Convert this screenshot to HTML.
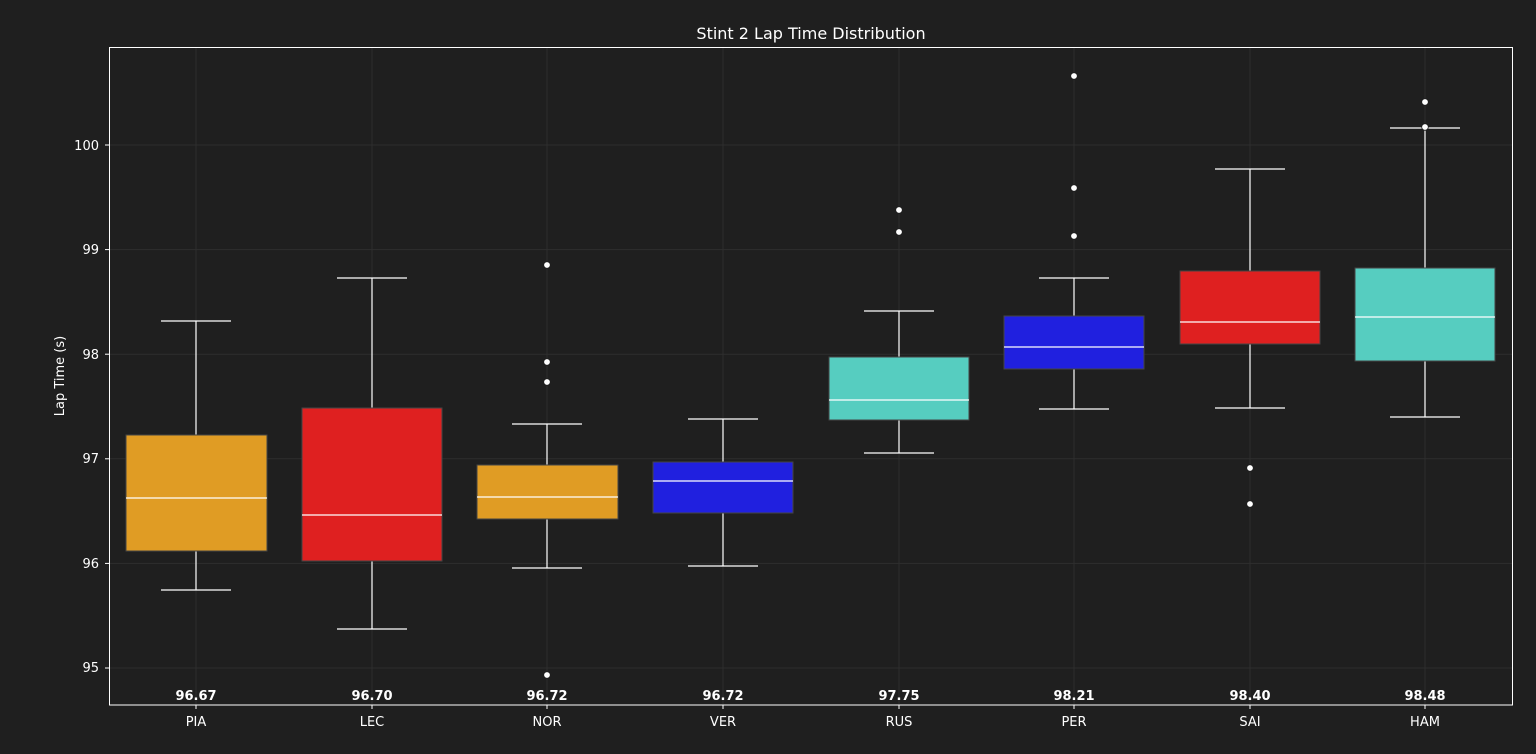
<!DOCTYPE html>
<html><head><meta charset="utf-8"><style>
html,body{margin:0;padding:0;background:#1f1f1f;}
svg{display:block;font-family:"DejaVu Sans","Liberation Sans",sans-serif;}
</style></head><body>
<svg width="1536" height="754" viewBox="0 0 1536 754" xmlns="http://www.w3.org/2000/svg">
<rect width="1536" height="754" fill="#1f1f1f"/>
<g stroke="#2e2e2e" stroke-width="1">
<line x1="109" x2="1513" y1="145" y2="145"/><line x1="109" x2="1513" y1="249.6" y2="249.6"/>
<line x1="109" x2="1513" y1="354.2" y2="354.2"/><line x1="109" x2="1513" y1="458.8" y2="458.8"/>
<line x1="109" x2="1513" y1="563.4" y2="563.4"/><line x1="109" x2="1513" y1="668" y2="668"/>
<line x1="196" x2="196" y1="47" y2="705"/><line x1="372" x2="372" y1="47" y2="705"/>
<line x1="547" x2="547" y1="47" y2="705"/><line x1="723" x2="723" y1="47" y2="705"/>
<line x1="899" x2="899" y1="47" y2="705"/><line x1="1074" x2="1074" y1="47" y2="705"/>
<line x1="1250" x2="1250" y1="47" y2="705"/><line x1="1425" x2="1425" y1="47" y2="705"/>
</g>
<g stroke="#fff" stroke-width="1">
<line x1="105" x2="109" y1="145" y2="145"/><line x1="105" x2="109" y1="249.6" y2="249.6"/>
<line x1="105" x2="109" y1="354.2" y2="354.2"/><line x1="105" x2="109" y1="458.8" y2="458.8"/>
<line x1="105" x2="109" y1="563.4" y2="563.4"/><line x1="105" x2="109" y1="668" y2="668"/>
<line x1="196" x2="196" y1="705" y2="709"/><line x1="372" x2="372" y1="705" y2="709"/>
<line x1="547" x2="547" y1="705" y2="709"/><line x1="723" x2="723" y1="705" y2="709"/>
<line x1="899" x2="899" y1="705" y2="709"/><line x1="1074" x2="1074" y1="705" y2="709"/>
<line x1="1250" x2="1250" y1="705" y2="709"/><line x1="1425" x2="1425" y1="705" y2="709"/>
</g>
<text x="811" y="39" fill="#fff" font-size="16" text-anchor="middle">Stint 2 Lap Time Distribution</text>
<g fill="#fff" font-size="13" text-anchor="end">
<text x="99" y="150">100</text><text x="99" y="254">99</text><text x="99" y="359">98</text>
<text x="99" y="463">97</text><text x="99" y="568">96</text><text x="99" y="672">95</text>
</g>
<text transform="translate(64,376) rotate(-90)" fill="#fff" font-size="13" text-anchor="middle">Lap Time (s)</text>
<g fill="#fff" font-size="13" text-anchor="middle">
<text x="196" y="726">PIA</text><text x="372" y="726">LEC</text><text x="547" y="726">NOR</text><text x="723" y="726">VER</text>
<text x="899" y="726">RUS</text><text x="1074" y="726">PER</text><text x="1250" y="726">SAI</text><text x="1425" y="726">HAM</text>
</g>
<g fill="#fff" font-size="13" font-weight="bold" text-anchor="middle">
<text x="196" y="700">96.67</text><text x="372" y="700">96.70</text><text x="547" y="700">96.72</text><text x="723" y="700">96.72</text>
<text x="899" y="700">97.75</text><text x="1074" y="700">98.21</text><text x="1250" y="700">98.40</text><text x="1425" y="700">98.48</text>
</g>
<g stroke="#fff" stroke-width="1.2" fill="none">
<path d="M196 321V435M196 551V590M161 321H231M161 590H231"/>
<path d="M372 278V408M372 561V629M337 278H407M337 629H407"/>
<path d="M547 424V465M547 519V568M512 424H582M512 568H582"/>
<path d="M723 419V462M723 513V566M688 419H758M688 566H758"/>
<path d="M899 311V357M899 420V453M864 311H934M864 453H934"/>
<path d="M1074 278V316M1074 369V409M1039 278H1109M1039 409H1109"/>
<path d="M1250 169V271M1250 344V408M1215 169H1285M1215 408H1285"/>
<path d="M1425 128V268M1425 361V417M1390 128H1460M1390 417H1460"/>
</g>
<g stroke="#444" stroke-width="1">
<rect x="126" y="435" width="141" height="116" fill="#e09c24"/>
<rect x="302" y="408" width="140" height="153" fill="#df2020"/>
<rect x="477" y="465" width="141" height="54" fill="#e09c24"/>
<rect x="653" y="462" width="140" height="51" fill="#2020df"/>
<rect x="829" y="357" width="140" height="63" fill="#56cdc0"/>
<rect x="1004" y="316" width="140" height="53" fill="#2020df"/>
<rect x="1180" y="271" width="140" height="73" fill="#df2020"/>
<rect x="1355" y="268" width="140" height="93" fill="#56cdc0"/>
</g>
<g stroke="#fff" stroke-width="1.2">
<line x1="126" x2="267" y1="498" y2="498"/><line x1="302" x2="442" y1="515" y2="515"/>
<line x1="477" x2="618" y1="497" y2="497"/><line x1="653" x2="793" y1="481" y2="481"/>
<line x1="829" x2="969" y1="400" y2="400"/><line x1="1004" x2="1144" y1="347" y2="347"/>
<line x1="1180" x2="1320" y1="322" y2="322"/><line x1="1355" x2="1495" y1="317" y2="317"/>
</g>
<g fill="#fff" stroke="#1f1f1f" stroke-width="0.8">
<circle cx="547" cy="265" r="3.3"/><circle cx="547" cy="362" r="3.3"/><circle cx="547" cy="382" r="3.3"/><circle cx="547" cy="675" r="3.3"/>
<circle cx="899" cy="210" r="3.3"/><circle cx="899" cy="232" r="3.3"/>
<circle cx="1074" cy="76" r="3.3"/><circle cx="1074" cy="188" r="3.3"/><circle cx="1074" cy="236" r="3.3"/>
<circle cx="1250" cy="468" r="3.3"/><circle cx="1250" cy="504" r="3.3"/>
<circle cx="1425" cy="102" r="3.3"/><circle cx="1425" cy="127" r="3.3"/>
</g>
<rect x="109.5" y="47.5" width="1403" height="657.5" fill="none" stroke="#fff" stroke-width="1"/>
</svg>
</body></html>
